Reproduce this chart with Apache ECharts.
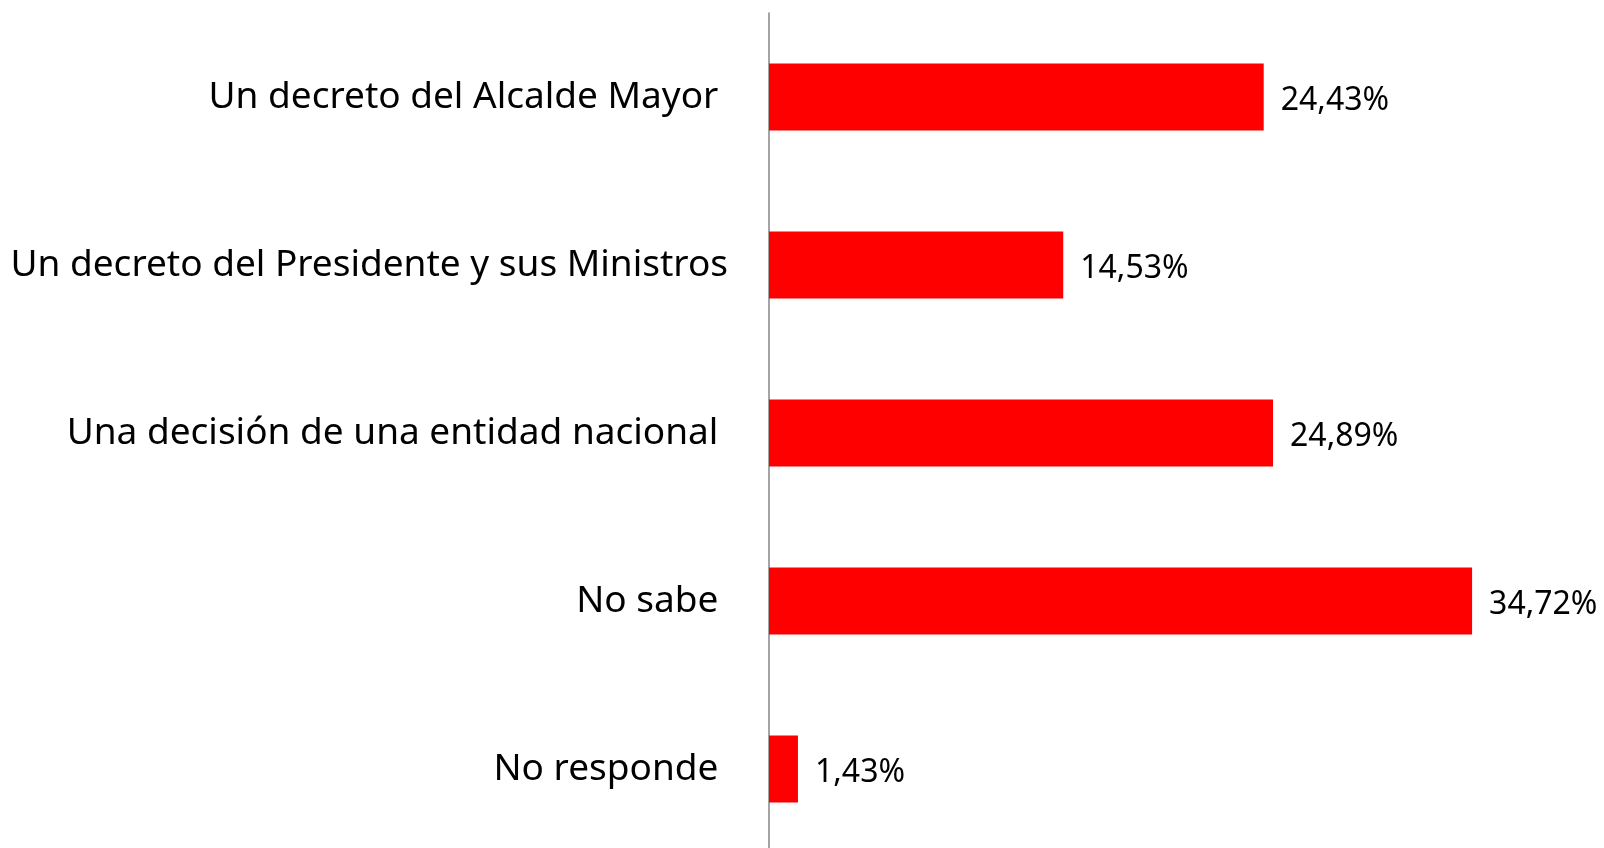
<!DOCTYPE html>
<html>
<head>
<meta charset="utf-8">
<script src="https://cdn.jsdelivr.net/npm/echarts@6/dist/echarts.min.js"></script>
<style>html,body{margin:0;padding:0;background:#fff}#c{width:1604px;height:848px}</style>
</head>
<body>
<div id="c"></div>
<script>
var categories = [
  "Un decreto del Alcalde Mayor ",
  "Un decreto del Presidente y sus Ministros",
  "Una decisión de una entidad nacional ",
  "No sabe ",
  "No responde "
];
var values = [24.43, 14.53, 24.89, 34.72, 1.43];

var chart = echarts.init(document.getElementById('c'), null, {renderer: 'canvas'});
chart.setOption({
  animation: false,
  backgroundColor: '#ffffff',
  grid: {left: 769, top: 13, width: 810, height: 840, containLabel: false, outerBoundsMode: 'none'},
  xAxis: {
    type: 'value', min: 0, max: 40, show: false
  },
  yAxis: {
    type: 'category', data: categories, inverse: true,
    axisLine: {show: true, lineStyle: {color: '#868686', width: 1.5}},
    axisTick: {show: false},
    axisLabel: {
      margin: 41, color: '#000', fontSize: 37,
      fontFamily: '"Noto Sans", sans-serif',
      padding: [6, 0, 0, 0]
    }
  },
  series: [{
    type: 'bar', data: values, barCategoryGap: '60%',
    itemStyle: {color: '#ff0000'},
    label: {
      show: true, position: 'right', distance: 17, color: '#000',
      fontSize: 32, fontFamily: '"Noto Sans", sans-serif',
      offset: [0, 4],
      formatter: function (p) { return p.value.toFixed(2).replace('.', ',') + '%'; }
    }
  }]
});
</script>
</body>
</html>
